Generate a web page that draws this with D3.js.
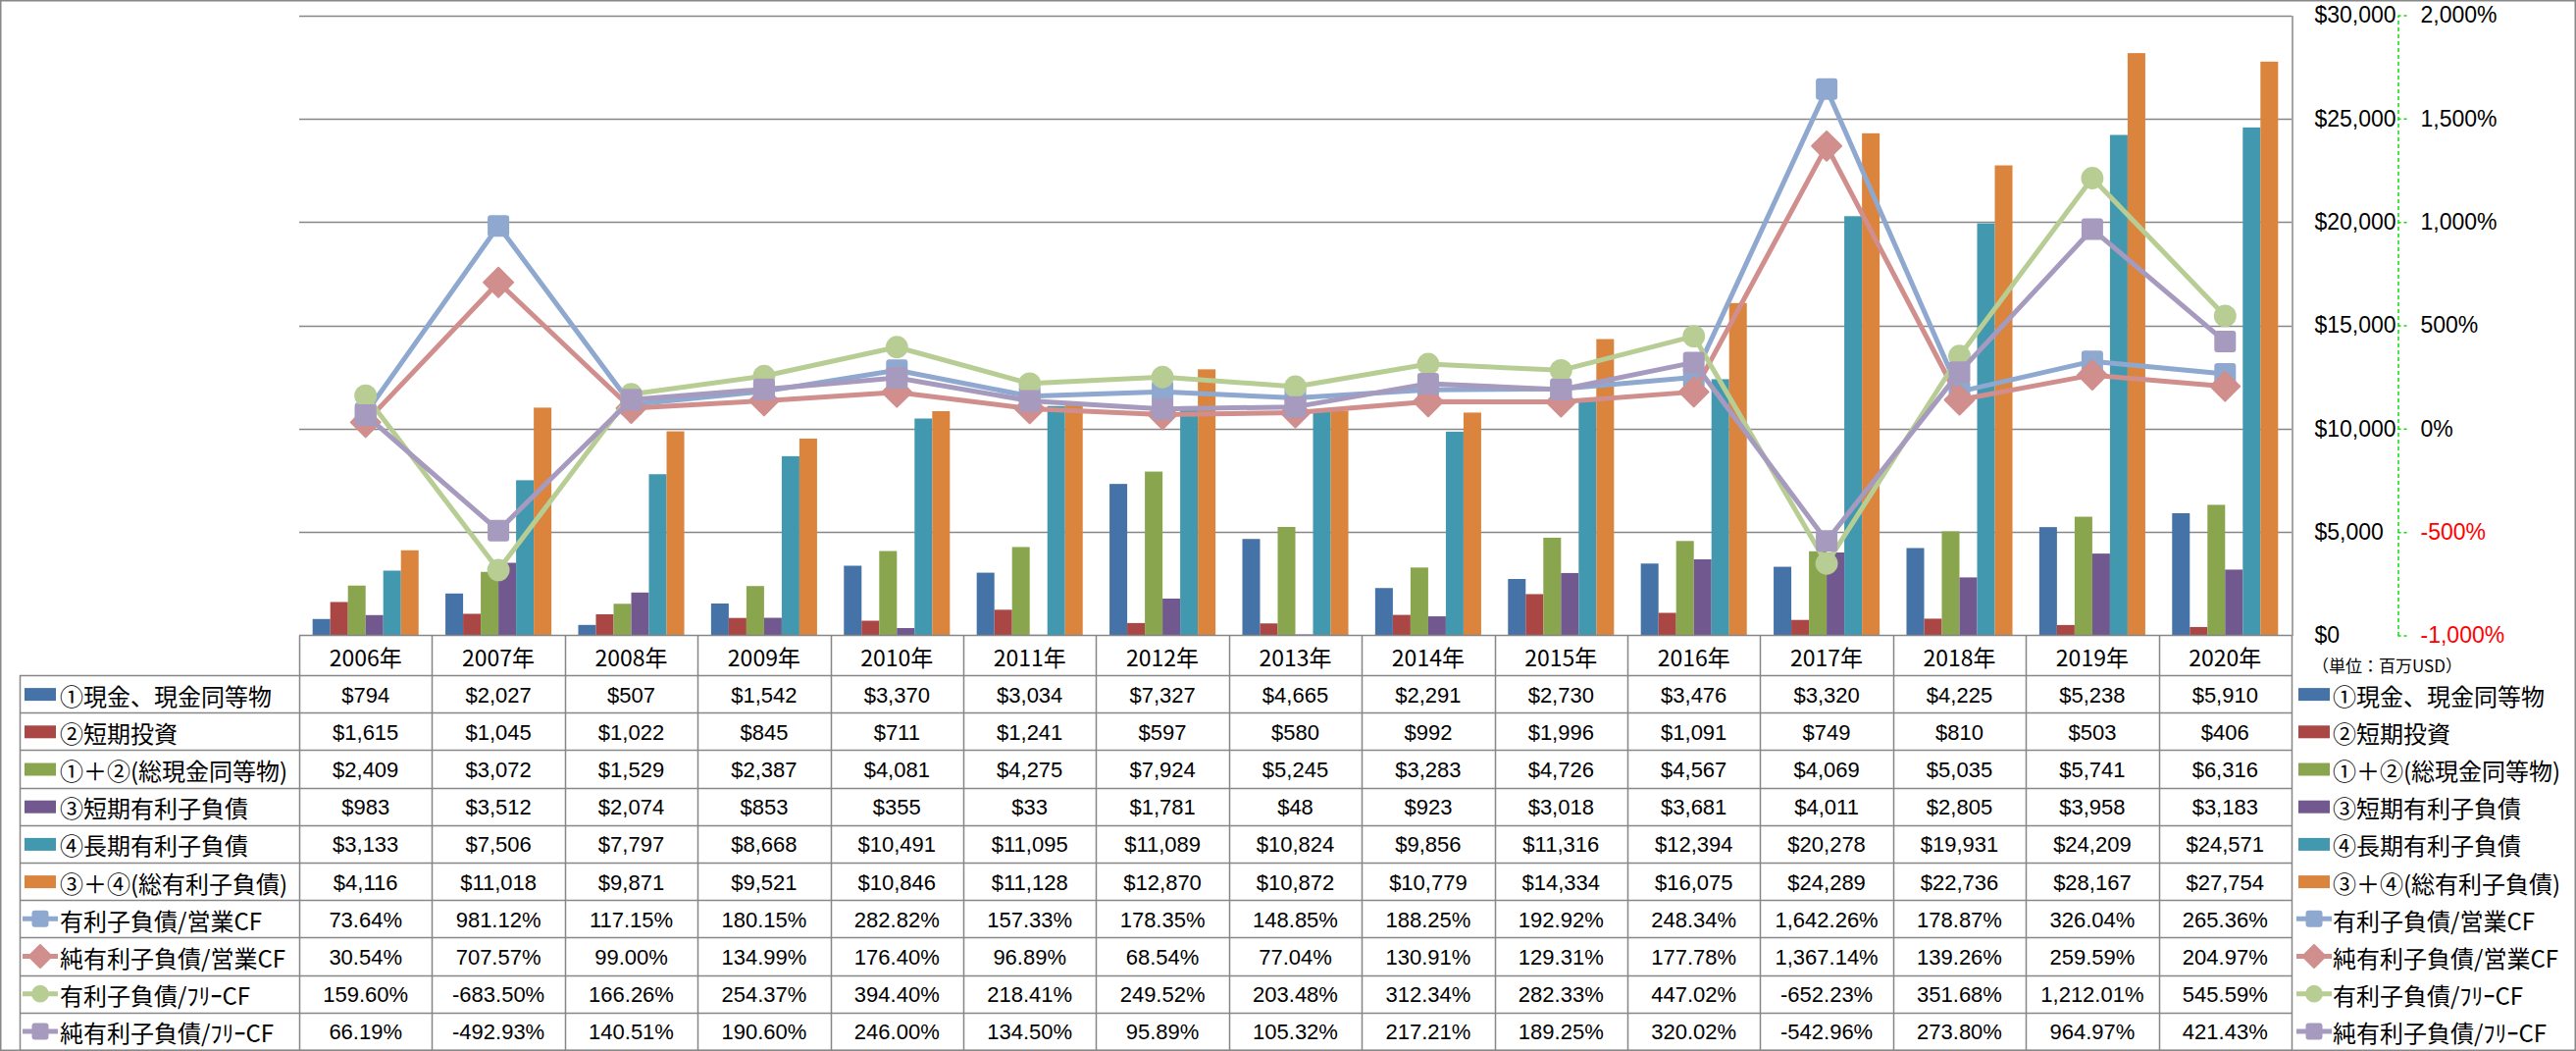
<!DOCTYPE html>
<html><head><meta charset="utf-8">
<script src="https://cdn.jsdelivr.net/npm/d3@7"></script>
<style>
html,body{margin:0;padding:0;background:#fff;}
text{font-family:"Liberation Sans","Noto Sans CJK JP",sans-serif;}
.cjk{font-family:"Noto Sans CJK JP","Liberation Sans",sans-serif;}
</style></head>
<body>
<svg id="chart" width="2626" height="1071"></svg>
<script>
const years = ["2006年","2007年","2008年","2009年","2010年","2011年","2012年","2013年","2014年","2015年","2016年","2017年","2018年","2019年","2020年"];

const cash       = [794,2027,507,1542,3370,3034,7327,4665,2291,2730,3476,3320,4225,5238,5910];
const shortInv   = [1615,1045,1022,845,711,1241,597,580,992,1996,1091,749,810,503,406];
const totalCash  = [2409,3072,1529,2387,4081,4275,7924,5245,3283,4726,4567,4069,5035,5741,6316];
const shortDebt  = [983,3512,2074,853,355,33,1781,48,923,3018,3681,4011,2805,3958,3183];
const longDebt   = [3133,7506,7797,8668,10491,11095,11089,10824,9856,11316,12394,20278,19931,24209,24571];
const totalDebt  = [4116,11018,9871,9521,10846,11128,12870,10872,10779,14334,16075,24289,22736,28167,27754];

const debtOpCF     = [73.64,981.12,117.15,180.15,282.82,157.33,178.35,148.85,188.25,192.92,248.34,1642.26,178.87,326.04,265.36];
const netDebtOpCF  = [30.54,707.57,99.00,134.99,176.40,96.89,68.54,77.04,130.91,129.31,177.78,1367.14,139.26,259.59,204.97];
const debtFCF      = [159.60,-683.50,166.26,254.37,394.40,218.41,249.52,203.48,312.34,282.33,447.02,-652.23,351.68,1212.01,545.59];
const netDebtFCF   = [66.19,-492.93,140.51,190.60,246.00,134.50,95.89,105.32,217.21,189.25,320.02,-542.96,273.80,964.97,421.43];

const barNames  = ["①現金、現金同等物","②短期投資","①＋②(総現金同等物)","③短期有利子負債","④長期有利子負債","③＋④(総有利子負債)"];
const lineNames = ["有利子負債/営業CF","純有利子負債/営業CF","有利子負債/ﾌﾘｰCF","純有利子負債/ﾌﾘｰCF"];
const primaryTicks   = [0,5000,10000,15000,20000,25000,30000];
const secondaryTicks = [-1000,-500,0,500,1000,1500,2000];
const unitLabel = "（単位：百万USD）";

const barData  = [cash, shortInv, totalCash, shortDebt, longDebt, totalDebt];
const lineData = [debtOpCF, netDebtOpCF, debtFCF, netDebtFCF];
const barColors  = ["#4572A7","#AA4643","#89A54E","#71588F","#4198AF","#DB843D"];
const lineColors = ["#8EA8CF","#D08E8D","#B8CD94","#A69ABF"];
const markers = ["square","diamond","circle","square"];

const locale = d3.formatLocale({decimal:".", thousands:",", grouping:[3], currency:["$",""], minus:"-"});

const W = 2626, H = 1071;
const plotL = 305, plotR = 2336, plotT = 15.5, plotB = 647.5;
const gridColor = "#878787";

const svg = d3.select("#chart");
svg.append("rect").attr("x",0).attr("y",0).attr("width",W).attr("height",H).attr("fill","#fff");

const x = d3.scaleBand().domain(years).range([plotL, plotR]).padding(0);
const bw = x.bandwidth();
const xs = d3.scaleBand().domain(d3.range(barData.length)).range([bw*0.101, bw*0.899]).padding(0);
const y  = d3.scaleLinear().domain([0,30000]).range([plotB, plotT]);
const y2 = d3.scaleLinear().domain([-1000,2000]).range([plotB, plotT]);

// gridlines
svg.append("g").selectAll("line").data(primaryTicks.filter(d=>d>0)).join("line")
  .attr("x1",plotL).attr("x2",plotR).attr("y1",d=>Math.round(y(d))+0.5).attr("y2",d=>Math.round(y(d))+0.5)
  .attr("stroke",gridColor).attr("stroke-width",1.5);

// bars
const gb = svg.append("g");
barData.forEach((arr, si) => {
  gb.append("g").selectAll("rect").data(arr).join("rect")
    .attr("x",(d,i)=>x(years[i]) + xs(si))
    .attr("width", xs.bandwidth())
    .attr("y", d=>y(d))
    .attr("height", d=>plotB - y(d))
    .attr("fill", barColors[si]);
});

function drawMarker(g, type, cx, cy, color, s){
  if(type==="square"){
    g.append("rect").attr("x",cx-s/2).attr("y",cy-s/2).attr("width",s).attr("height",s).attr("rx",3)
      .attr("fill",color);
  } else if(type==="diamond"){
    const r = s*0.68;
    g.append("path").attr("d",`M${cx},${cy-r}L${cx+r},${cy}L${cx},${cy+r}L${cx-r},${cy}Z`)
      .attr("fill",color).attr("stroke",color).attr("stroke-width",2).attr("stroke-linejoin","round");
  } else {
    g.append("circle").attr("cx",cx).attr("cy",cy).attr("r",s*0.52).attr("fill",color);
  }
}

// lines
const gl = svg.append("g");
const cx = i => x(years[i]) + bw/2;
lineData.forEach((arr, si) => {
  const line = d3.line().x((d,i)=>cx(i)).y(d=>y2(d));
  const g = gl.append("g");
  g.append("path").attr("d", line(arr)).attr("fill","none").attr("stroke",lineColors[si])
    .attr("stroke-width",5).attr("stroke-linejoin","round");
  arr.forEach((d,i)=> drawMarker(g, markers[si], cx(i), y2(d), lineColors[si], 22));
});

// primary axis on right
const ax1 = svg.append("g").attr("transform",`translate(${plotR+0.5},0)`)
  .call(d3.axisRight(y).tickValues(primaryTicks).tickFormat(locale.format("$,")).tickSize(0).tickSizeOuter(0).tickPadding(23));
ax1.select(".domain").attr("stroke",gridColor).attr("stroke-width",1.5);
ax1.selectAll("text").attr("font-size",23).attr("fill","#000").style("font-family","Liberation Sans");

// secondary axis
const ax2 = svg.append("g").attr("transform",`translate(2444.5,0)`)
  .call(d3.axisRight(y2).tickValues(secondaryTicks).tickFormat(d=>locale.format(",")(d)+"%").tickSize(9).tickSizeOuter(0).tickPadding(14));
ax2.select(".domain").attr("stroke","#11dd11").attr("stroke-width",1.5).attr("stroke-dasharray","4,3");
ax2.selectAll(".tick line").attr("stroke","#11dd11").attr("stroke-width",1.5).attr("stroke-dasharray","3,3");
ax2.selectAll("text").attr("font-size",23).attr("fill",d=>d<0?"#ff0000":"#000").style("font-family","Liberation Sans");

// unit label
svg.append("text").attr("class","cjk").attr("x",2357).attr("y",677).attr("dominant-baseline","central")
  .attr("font-size",17).attr("fill","#000").text(unitLabel);

// table
const headerB = 688;
const rowH = (1070 - headerB) / 10;
const rowTop = r => headerB + r*rowH;
const tb = svg.append("g");
tb.append("line").attr("x1",plotL).attr("x2",plotR).attr("y1",plotB).attr("y2",plotB).attr("stroke",gridColor).attr("stroke-width",1.5);
d3.range(11).forEach(r=>{
  const yy = Math.round(rowTop(r))+0.5;
  tb.append("line").attr("x1",20).attr("x2",plotR).attr("y1",yy).attr("y2",yy).attr("stroke",gridColor).attr("stroke-width",1.5);
});
years.forEach((yr,i)=>{
  const xx = Math.round(x(yr))+0.5;
  tb.append("line").attr("x1",xx).attr("x2",xx).attr("y1",plotB).attr("y2",1070).attr("stroke",gridColor).attr("stroke-width",1.5);
});
tb.append("line").attr("x1",plotR+0.5).attr("x2",plotR+0.5).attr("y1",plotB).attr("y2",1070).attr("stroke",gridColor).attr("stroke-width",1.5);
tb.append("line").attr("x1",20.5).attr("x2",20.5).attr("y1",headerB).attr("y2",1070).attr("stroke",gridColor).attr("stroke-width",1.5);

tb.append("g").selectAll("text").data(years).join("text")
  .attr("class","cjk").attr("x",d=>x(d)+bw/2).attr("y",(plotB+headerB)/2+1).attr("text-anchor","middle")
  .attr("dominant-baseline","central").attr("font-size",23).text(d=>d);

const fmtD = locale.format("$,");
const fmtP = d => locale.format(",.2f")(d) + "%";
const allRows = barData.map(a=>({vals:a, fmt:fmtD})).concat(lineData.map(a=>({vals:a, fmt:fmtP})));
allRows.forEach((row, r)=>{
  const cyR = rowTop(r) + rowH/2 + 1;
  tb.append("g").selectAll("text").data(row.vals).join("text")
    .attr("x",(d,i)=>x(years[i])+bw/2).attr("y",cyR).attr("text-anchor","middle")
    .attr("dominant-baseline","central").attr("font-size",22).attr("fill","#000").text(d=>row.fmt(d));
});

function legendRow(g, r, keyX, textX){
  const cyR = rowTop(r) + rowH/2;
  if(r < 6){
    g.append("rect").attr("x",keyX).attr("y",cyR-6).attr("width",32).attr("height",13).attr("fill",barColors[r]);
    g.append("text").attr("class","cjk").attr("x",textX).attr("y",cyR+1).attr("dominant-baseline","central")
      .attr("font-size",24).attr("fill","#000").text(barNames[r]);
  } else {
    const li = r-6;
    g.append("line").attr("x1",keyX-2).attr("x2",keyX+34).attr("y1",cyR).attr("y2",cyR)
      .attr("stroke",lineColors[li]).attr("stroke-width",5);
    drawMarker(g, markers[li], keyX+16, cyR, lineColors[li], 17);
    g.append("text").attr("class","cjk").attr("x",textX).attr("y",cyR+1).attr("dominant-baseline","central")
      .attr("font-size",24).attr("fill","#000").text(lineNames[li]);
  }
}
const lgL = svg.append("g"), lgR = svg.append("g");
d3.range(10).forEach(r=>{ legendRow(lgL, r, 25, 61); legendRow(lgR, r, 2343, 2378); });

svg.append("rect").attr("x",0.75).attr("y",0.75).attr("width",W-1.5).attr("height",H-1.5)
  .attr("fill","none").attr("stroke","#888").attr("stroke-width",1.5);
</script>
</body></html>
